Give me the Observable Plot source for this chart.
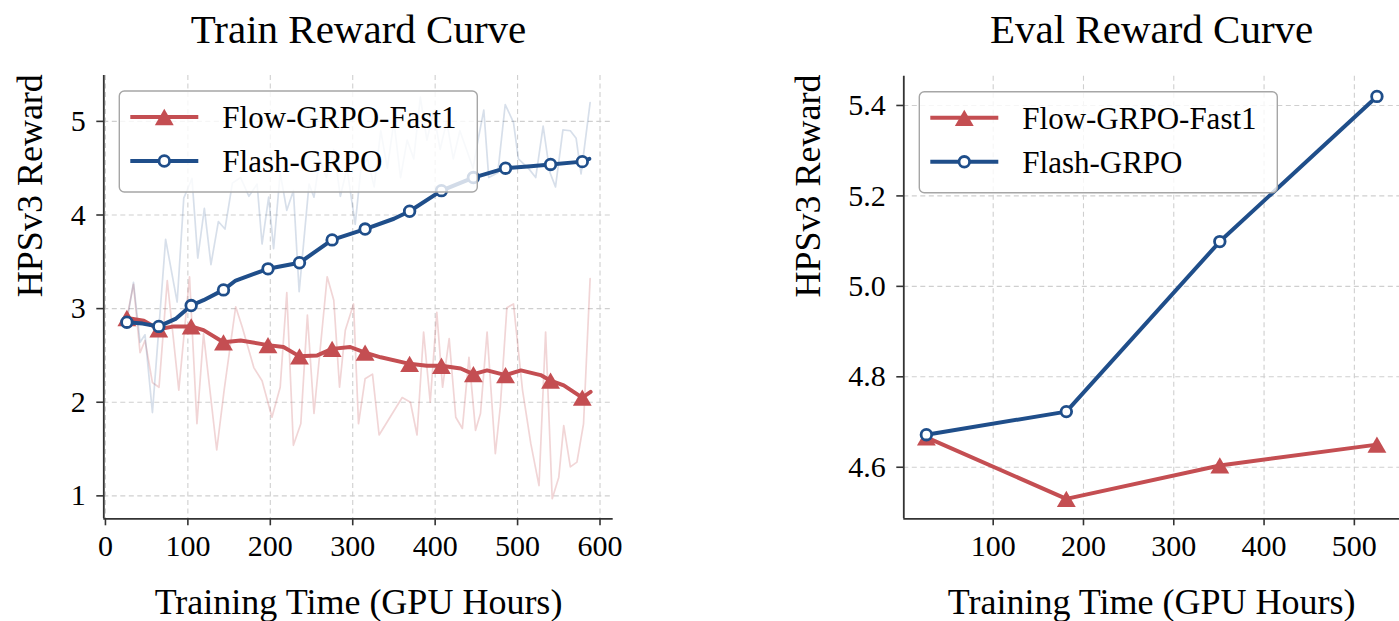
<!DOCTYPE html>
<html><head><meta charset="utf-8">
<script src="https://cdn.jsdelivr.net/npm/d3@7"></script>
<script src="https://cdn.jsdelivr.net/npm/@observablehq/plot@0.6"></script>
<style>
body{margin:0;background:#fff;width:1399px;height:621px;overflow:hidden;position:relative}
#left,#right{position:absolute;top:0}
#left{left:0}
#right{left:700px}
</style></head><body>
<div id="left"></div><div id="right"></div>
<script>
// ---------- data ----------
const seriesNames = ["Flow-GRPO-Fast1", "Flash-GRPO"];

// Train: raw (noisy) rewards  [GPU hours, reward]
const flowRaw = [[26,2.90],[34,3.26],[42,2.53],[48,2.66],[57,2.21],[65,2.16],[75,3.30],[89,2.13],[102,3.34],[111,1.77],[119,2.73],[135,1.49],[144,2.13],[158,3.02],[166,2.80],[180,2.37],[190,2.23],[202,1.84],[212,2.16],[220,3.17],[228,1.54],[237,1.77],[245,2.93],[253,1.88],[269,3.34],[277,3.09],[284,2.16],[291,2.77],[301,3.05],[307,1.77],[315,2.25],[324,2.30],[332,1.65],[360,2.05],[370,2.00],[378,1.65],[386,2.75],[394,2.00],[402,2.96],[409,2.16],[417,2.68],[425,1.84],[433,1.72],[441,2.48],[449,1.70],[455,1.88],[463,2.75],[473,1.45],[479,1.95],[487,3.01],[495,3.05],[506,2.13],[516,1.56],[526,1.11],[534,2.75],[542,0.97],[550,1.20],[556,1.75],[564,1.31],[572,1.36],[580,1.77],[588,3.32]];
const flashRaw = [[26,2.86],[34,3.28],[42,2.64],[48,2.72],[57,1.89],[73,3.74],[87,3.07],[95,4.18],[105,4.39],[112,3.54],[120,4.07],[128,3.47],[137,3.93],[145,3.85],[154,4.34],[164,4.40],[174,4.20],[184,4.33],[190,3.69],[198,4.19],[204,3.64],[212,4.45],[220,4.05],[228,4.26],[235,3.18],[247,4.33],[253,4.19],[260,4.60],[268,4.40],[277,4.70],[285,4.20],[293,4.50],[303,3.90],[310,4.50],[318,4.60],[326,4.30],[334,4.90],[342,4.50],[350,5.00],[358,4.40],[366,4.80],[374,4.60],[382,5.26],[390,4.80],[398,5.10],[406,4.70],[414,5.00],[422,4.60],[430,4.90],[438,4.70],[446,4.50],[452,4.80],[459,5.12],[465,4.40],[476,4.45],[485,5.18],[495,4.99],[501,4.60],[514,4.49],[522,4.40],[531,4.95],[539,4.46],[546,4.30],[555,4.91],[564,4.90],[571,4.82],[577,4.44],[588,5.20]];

// Train: smoothed curves, marker points + in-between points
const trainMarkX = [26, 64.7, 104, 143.2, 197.2, 235.4, 275, 315, 369, 407.6, 446.4, 485.4, 540, 578.5];
const flowMarkY  = [2.90, 2.78, 2.81, 2.64, 2.61, 2.49, 2.57, 2.53, 2.41, 2.39, 2.30, 2.29, 2.23, 2.05];
const flashMarkY = [2.855, 2.81, 3.033, 3.20, 3.425, 3.49, 3.734, 3.85, 4.04, 4.26, 4.40, 4.50, 4.54, 4.57];
const flowSmoothMid  = [[46.5,2.87],[83,2.81],[119,2.77],[164,2.66],[216,2.59],[257,2.50],[297,2.59],[334,2.48],[390,2.39],[431,2.36],[463,2.34],[504,2.34],[528,2.29],[556,2.18],[588.6,2.11]];
const flashSmoothMid = [[45,2.84],[85,2.89],[119,3.09],[158,3.30],[350,3.96],[516,4.52],[587,4.60]];

// Eval
const evalX     = [26, 181, 351, 525];
const flowEval  = [4.666, 4.530, 4.604, 4.650];
const flashEval = [4.672, 4.723, 5.099, 5.420];

// ticks
const trainXTicks = [0, 100, 200, 300, 400, 500, 600];
const trainYTicks = [1, 2, 3, 4, 5];
const evalXTicks  = [100, 200, 300, 400, 500];
const evalYTicks  = [4.6, 4.8, 5.0, 5.2, 5.4];

// ---------- styling ----------
const RED = "#c44e52", BLUE = "#1f4e8a";
const FONT = "'Liberation Serif', 'Times New Roman', serif";
const AX = "#333";
const GRID = {stroke: "#cfcfcf", strokeOpacity: 1, strokeWidth: 1.1, strokeDasharray: "5,3.5"};
const TRI_R = 7, CIR_R = 5.3;
const LW = 4;

const toRows = a => a.map(([x, y]) => ({x, y}));
const merge = (mx, my, mid) => mx.map((x, i) => ({x, y: my[i]})).concat(toRows(mid)).sort((a, b) => a.x - b.x);
const flowSmooth = merge(trainMarkX, flowMarkY, flowSmoothMid);
const flashSmooth = merge(trainMarkX, flashMarkY, flashSmoothMid);
const flowMarks = trainMarkX.map((x, i) => ({x, y: flowMarkY[i]}));
const flashMarks = trainMarkX.map((x, i) => ({x, y: flashMarkY[i]}));
const flowEvalRows = evalX.map((x, i) => ({x, y: flowEval[i]}));
const flashEvalRows = evalX.map((x, i) => ({x, y: flashEval[i]}));

function common(title, xDomain, yDomain, xTicks, yTicks, yFmt, ylabelDx) {
  return [
    Plot.gridX(xTicks, GRID),
    Plot.gridY(yTicks, GRID),
    Plot.axisX(xTicks, {anchor: "bottom", tickSize: 7, tickPadding: 9, stroke: AX, strokeWidth: 1.6, fill: "black", fontSize: 30, label: null}),
    Plot.axisY(yTicks, {anchor: "left", tickSize: 7, tickPadding: 11, stroke: AX, strokeWidth: 1.6, fill: "black", fontSize: 30, label: null, tickFormat: yFmt}),
    Plot.ruleX([xDomain[0]], {stroke: AX, strokeWidth: 1.8}),
    Plot.ruleY([yDomain[0]], {stroke: AX, strokeWidth: 1.8}),
    Plot.text([title], {text: d => d, frameAnchor: "top", dy: -46, fontSize: 41, lineAnchor: "middle", fill: "black"}),
    Plot.text(["Training Time (GPU Hours)"], {text: d => d, frameAnchor: "bottom", dy: 84, fontSize: 36, lineAnchor: "middle", fill: "black"}),
    Plot.text(["HPSv3 Reward"], {text: d => d, frameAnchor: "left", dx: ylabelDx, rotate: -90, fontSize: 36, lineAnchor: "middle", fill: "black"})
  ];
}

function addLegend(svg, frameLeft, frameTop) {
  const g = d3.select(svg).append("g").attr("text-anchor", "start");
  const bx = frameLeft + 16, by = frameTop + 16;
  g.append("rect").attr("x", bx).attr("y", by).attr("width", 358).attr("height", 101)
    .attr("rx", 5).attr("fill", "white").attr("fill-opacity", 0.8)
    .attr("stroke", "#a6a6a6").attr("stroke-width", 1.4);
  const rows = [{name: seriesNames[0], color: RED, tri: true}, {name: seriesNames[1], color: BLUE, tri: false}];
  rows.forEach((r, i) => {
    const cy = by + 26 + i * 44;
    g.append("line").attr("x1", bx + 11).attr("x2", bx + 79).attr("y1", cy).attr("y2", cy)
      .attr("stroke", r.color).attr("stroke-width", LW);
    const mx = bx + 45;
    if (r.tri) {
      g.append("path").attr("d", d3.symbol(d3.symbolTriangle, Math.PI * TRI_R * TRI_R)())
        .attr("transform", `translate(${mx},${cy + 0.389 * TRI_R})`).attr("fill", r.color);
    } else {
      g.append("circle").attr("cx", mx).attr("cy", cy).attr("r", CIR_R)
        .attr("fill", "white").attr("stroke", r.color).attr("stroke-width", 2.8);
    }
    g.append("text").attr("x", bx + 103).attr("y", cy).attr("dy", "0.35em")
      .attr("text-anchor", "start")
      .attr("font-size", 31).attr("font-family", FONT).attr("fill", "black").text(r.name);
  });
}

// ---------- left: Train ----------
const trainXDomain = [-2, 616], trainYDomain = [0.755, 5.49];
const left = Plot.plot({
  width: 700, height: 621,
  marginLeft: 103.3, marginRight: 87.3, marginTop: 75, marginBottom: 102.7,
  style: {fontFamily: FONT, fontSize: "30px", background: "white", color: "black", overflow: "visible"},
  x: {domain: trainXDomain}, y: {domain: trainYDomain},
  marks: [
    ...common("Train Reward Curve", trainXDomain, trainYDomain, trainXTicks, trainYTicks, d3.format("d"), -73),
    Plot.line(toRows(flowRaw), {x: "x", y: "y", stroke: RED, strokeOpacity: 0.24, strokeWidth: 1.7}),
    Plot.line(toRows(flashRaw), {x: "x", y: "y", stroke: BLUE, strokeOpacity: 0.18, strokeWidth: 1.7}),
    Plot.line(flowSmooth, {x: "x", y: "y", stroke: RED, strokeWidth: LW, strokeLinejoin: "round"}),
    Plot.dot(flowMarks, {x: "x", y: "y", symbol: "triangle", r: TRI_R, fill: RED, dy: 0.389 * TRI_R}),
    Plot.line(flashSmooth, {x: "x", y: "y", stroke: BLUE, strokeWidth: LW, strokeLinejoin: "round"}),
    Plot.dot(flashMarks, {x: "x", y: "y", r: CIR_R, fill: "white", stroke: BLUE, strokeWidth: 2.8})
  ]
});
document.getElementById("left").append(left);
addLegend(left, 103.3, 75);

// ---------- right: Eval ----------
const evalXDomain = [1, 550], evalYDomain = [4.486, 5.4645];
const right = Plot.plot({
  width: 699, height: 621,
  marginLeft: 203.3, marginRight: 0, marginTop: 75.8, marginBottom: 102.7,
  style: {fontFamily: FONT, fontSize: "30px", background: "white", color: "black", overflow: "visible"},
  x: {domain: evalXDomain}, y: {domain: evalYDomain},
  marks: [
    ...common("Eval Reward Curve", evalXDomain, evalYDomain, evalXTicks, evalYTicks, d3.format(".1f"), -95),
    Plot.line(flowEvalRows, {x: "x", y: "y", stroke: RED, strokeWidth: LW, strokeLinejoin: "round"}),
    Plot.dot(flowEvalRows, {x: "x", y: "y", symbol: "triangle", r: TRI_R, fill: RED, dy: 0.389 * TRI_R}),
    Plot.line(flashEvalRows, {x: "x", y: "y", stroke: BLUE, strokeWidth: LW, strokeLinejoin: "round"}),
    Plot.dot(flashEvalRows, {x: "x", y: "y", r: CIR_R, fill: "white", stroke: BLUE, strokeWidth: 2.8})
  ]
});
document.getElementById("right").append(right);
addLegend(right, 203.3, 75.8);
</script>
</body></html>
